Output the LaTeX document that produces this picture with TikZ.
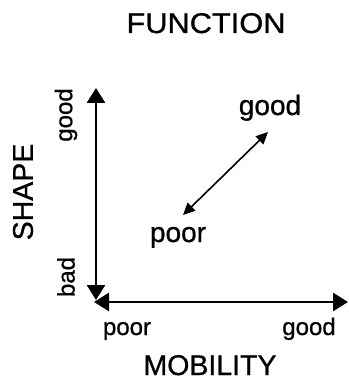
\documentclass[tikz,border=0pt]{standalone}
\usepackage{fontspec}
\setmainfont{Liberation Sans}[FakeBold=0.8]
\usetikzlibrary{arrows.meta}
\begin{document}
\begin{tikzpicture}[x=1pt,y=-1pt,
  axis/.style={line width=2.8pt,-{Triangle[length=15pt,width=18pt]}},
  dbl/.style={line width=1.6pt,{Triangle[length=12pt,width=11pt]}-{Triangle[length=12pt,width=11pt]}},
  big/.style={font=\fontsize{28.5}{31}\selectfont,inner sep=0pt,anchor=base},
  mid/.style={font=\fontsize{28}{31}\selectfont,inner sep=0pt,anchor=base},
  small/.style={font=\fontsize{24}{27}\selectfont,inner sep=0pt,anchor=base},
  tiny/.style={font=\fontsize{24}{27}\selectfont,inner sep=0pt}]
\useasboundingbox (0,0) rectangle (348,382);
\coordinate (ytop) at (96,88);
\coordinate (ybot) at (96,300);
\coordinate (xleft) at (94,302);
\coordinate (xright) at (348,302);
\coordinate (dlo) at (183,215);
\coordinate (dhi) at (268,132);
\draw[axis] (96,290) -- (ytop);
\draw[axis] (96,110) -- (ybot);
\draw[axis] (330,302) -- (xleft);
\draw[axis] (110,302) -- (xright);
\draw[dbl] (dlo) -- (dhi);
\node[big,xscale=1.08] (fn) at (206,33) {FUNCTION};
\node[big] (mob) at (210,375) {MOBILITY};
\node[big,rotate=90,anchor=center] (shape) at (23,192) {SHAPE};
\node[mid] (g1) at (270,115) {good};
\node[mid] (p1) at (178,242) {poor};
\node[small] (p2) at (127,335) {poor};
\node[small] (g2) at (309,335) {good};
\node[tiny,rotate=90] (g3) at (66,115) {good};
\node[tiny,rotate=90] (b1) at (66,277) {bad};
\end{tikzpicture}
\end{document}
